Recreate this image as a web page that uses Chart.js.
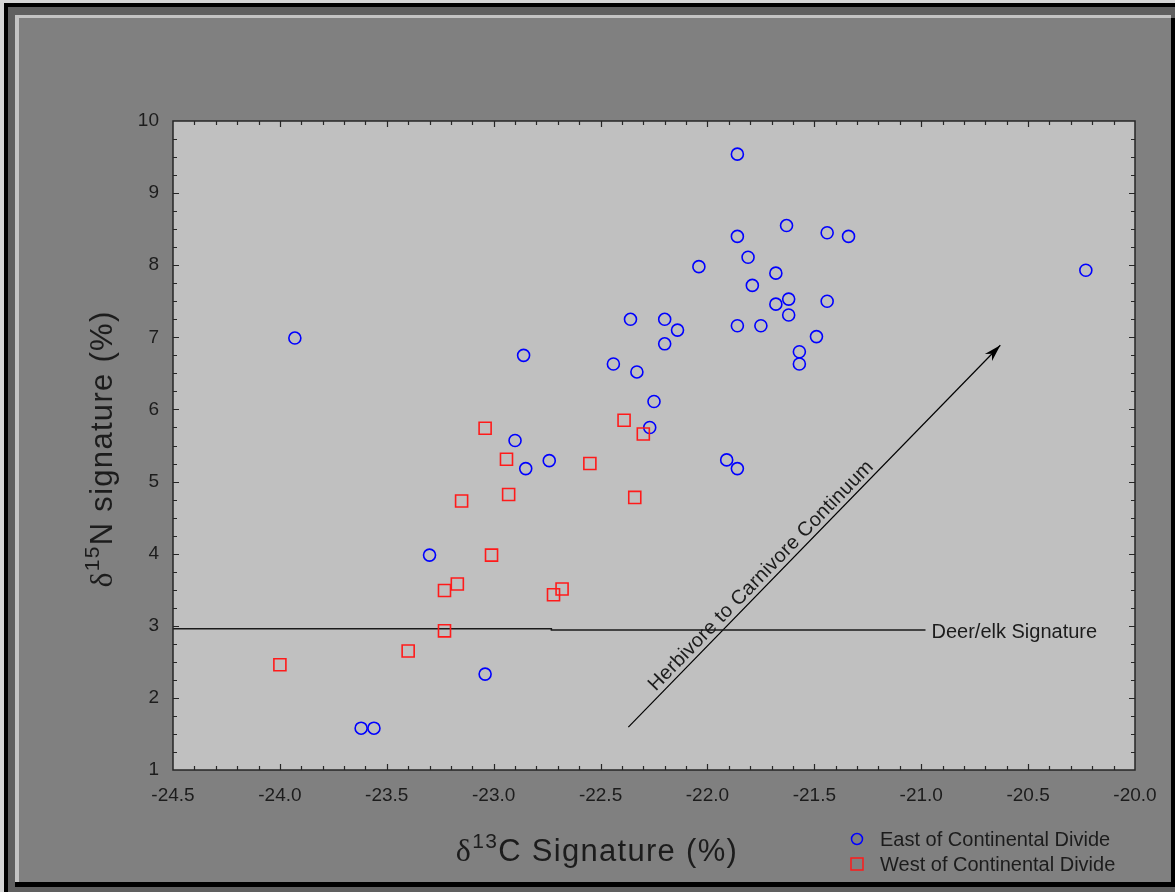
<!DOCTYPE html>
<html>
<head>
<meta charset="utf-8">
<script src="https://cdn.jsdelivr.net/npm/chart.js@4.4.0/dist/chart.umd.min.js"></script>
<style>
  html, body { margin: 0; padding: 0; }
  body { width: 1175px; height: 892px; background: #d6d6d6; position: relative; overflow: hidden; }
  .box { position: absolute; }
  #outer { left: 4px; top: 3px; width: 1171px; height: 889px; background: #000; }
  #dark { left: 8px; top: 7px; width: 1167px; height: 885px; background: #606060; }
  #light { left: 15px; top: 15px; width: 1156px; height: 867px; background: #c4c4c4; }
  #panel { left: 19px; top: 18px; width: 1152px; height: 864px; background: #808080; }
  #rshadow { left: 1171px; top: 18px; width: 4px; height: 869px; background: #000; }
  #bshadow { left: 15px; top: 882px; width: 1160px; height: 5px; background: #000; }
  #plot { position: absolute; left: 19px; top: 18px; }
</style>
</head>
<body>
<div class="box" id="outer"></div>
<div class="box" id="dark"></div>
<div class="box" id="light"></div>
<div class="box" id="panel"></div>
<div class="box" id="rshadow"></div>
<div class="box" id="bshadow"></div>
<canvas id="plot" width="1152" height="864"></canvas>
<script>
// d13C (x) and d15N (y) values
const eastX = [-23.93, -21.86, -21.63, -21.86, -21.44, -21.34, -21.81, -22.04, -21.68, -21.79,
               -21.68, -21.62, -21.44, -21.62, -21.86, -21.75, -22.36, -22.20, -22.14, -22.20,
               -21.49, -21.57, -21.57, -22.86, -22.44, -22.33, -22.25, -20.23, -22.90, -22.85,
               -22.74, -22.27, -21.91, -21.86, -23.30, -23.04, -23.62, -23.56];
const eastY = [6.99, 9.54, 8.55, 8.40, 8.45, 8.40, 8.11, 7.98, 7.89, 7.72,
               7.46, 7.53, 7.50, 7.31, 7.16, 7.16, 7.25, 7.25, 7.10, 6.91,
               7.01, 6.80, 6.63, 6.75, 6.63, 6.52, 6.11, 7.93, 5.57, 5.18,
               5.29, 5.75, 5.30, 5.18, 3.98, 2.33, 1.58, 1.58];

const westX = [-24.00, -23.40, -23.23, -23.23, -23.17, -23.15, -23.01, -23.04, -22.94, -22.93,
               -22.72, -22.68, -22.55, -22.39, -22.30, -22.34];
const westY = [2.46, 2.65, 2.93, 3.49, 3.58, 4.73, 3.98, 5.74, 5.31, 4.82,
               3.43, 3.51, 5.25, 5.85, 5.66, 4.78];

// reference lines
const deerX = [-24.5, -22.73, -22.73, -20.98];
const deerY = [2.96, 2.96, 2.94, 2.94];
const arrowX = [-22.37, -20.63];
const arrowY = [1.595, 6.89];

const xMin = -24.5, xMax = -20.0, xStep = 0.5, xMinor = 0.1;
const yMin = 1, yMax = 10, yStep = 1, yMinor = 0.25;

const seriesNames = ["East of Continental Divide", "West of Continental Divide"];
const deerLabel = "Deer/elk Signature";
const arrowLabel = "Herbivore to Carnivore Continuum";

const pts = (xs, ys) => xs.map((x, i) => ({ x: x, y: ys[i] }));

const sans = "'Liberation Sans', Arial, sans-serif";
const serif = "'Liberation Serif', 'Times New Roman', serif";
const ink = "#1c1c1c";

const decor = {
  id: "decor",
  beforeDraw(chart) {
    const { ctx, chartArea: a } = chart;
    ctx.save();
    ctx.fillStyle = "#c0c0c0";
    ctx.fillRect(a.left, a.top, a.right - a.left, a.bottom - a.top);
    ctx.restore();
  },
  afterDraw(chart) {
    const { ctx, chartArea: a } = chart;
    const xs = chart.scales.x, ys = chart.scales.y;
    ctx.save();

    // frame
    ctx.strokeStyle = "#262626";
    ctx.lineWidth = 1.5;
    ctx.strokeRect(a.left, a.top, a.right - a.left, a.bottom - a.top);

    // inward ticks on all four sides
    ctx.lineWidth = 1.2;
    ctx.beginPath();
    const nx = Math.round((xMax - xMin) / xMinor);
    for (let i = 1; i < nx; i++) {
      const px = Math.round(xs.getPixelForValue(xMin + i * xMinor)) + 0.5;
      const len = i % 5 === 0 ? 6 : 4;
      ctx.moveTo(px, a.bottom); ctx.lineTo(px, a.bottom - len);
      ctx.moveTo(px, a.top); ctx.lineTo(px, a.top + len);
    }
    const ny = Math.round((yMax - yMin) / yMinor);
    for (let i = 1; i < ny; i++) {
      const py = Math.round(ys.getPixelForValue(yMin + i * yMinor)) + 0.5;
      const len = i % 4 === 0 ? 6 : 4;
      ctx.moveTo(a.left, py); ctx.lineTo(a.left + len, py);
      ctx.moveTo(a.right, py); ctx.lineTo(a.right - len, py);
    }
    ctx.stroke();

    // arrow head
    const x0 = xs.getPixelForValue(arrowX[0]), y0 = ys.getPixelForValue(arrowY[0]);
    const x1 = xs.getPixelForValue(arrowX[1]), y1 = ys.getPixelForValue(arrowY[1]);
    const ang = Math.atan2(y1 - y0, x1 - x0);
    ctx.fillStyle = "#000";
    ctx.beginPath();
    ctx.moveTo(x1, y1);
    ctx.lineTo(x1 - 17 * Math.cos(ang) + 5 * Math.sin(ang), y1 - 17 * Math.sin(ang) - 5 * Math.cos(ang));
    ctx.lineTo(x1 - 12 * Math.cos(ang), y1 - 12 * Math.sin(ang));
    ctx.lineTo(x1 - 17 * Math.cos(ang) - 5 * Math.sin(ang), y1 - 17 * Math.sin(ang) + 5 * Math.cos(ang));
    ctx.closePath();
    ctx.fill();

    // arrow label along the line
    const t = 0.377;
    const len = Math.hypot(x1 - x0, y1 - y0);
    const ux = (x1 - x0) / len, uy = (y1 - y0) / len;
    const cx = x0 + t * (x1 - x0) + uy * 5, cy = y0 + t * (y1 - y0) - ux * 5;
    ctx.save();
    ctx.translate(cx, cy);
    ctx.rotate(ang);
    ctx.fillStyle = ink;
    ctx.font = "20px " + sans;
    ctx.letterSpacing = "0.3px";
    ctx.textAlign = "center";
    ctx.textBaseline = "alphabetic";
    ctx.fillText(arrowLabel, 0, 0);
    ctx.restore();

    // deer/elk label
    ctx.fillStyle = ink;
    ctx.font = "20px " + sans;
    ctx.textAlign = "left";
    ctx.textBaseline = "middle";
    ctx.fillText(deerLabel, xs.getPixelForValue(deerX[3]) + 6, ys.getPixelForValue(deerY[3]) + 2);

    // axis titles with delta and superscript
    ctx.letterSpacing = "1.3px";
    function title(parts) {
      let w = 0;
      parts.forEach(p => { ctx.font = p.f; p.w = ctx.measureText(p.s).width; w += p.w; });
      return w;
    }
    const xt = [
      { s: "\u03b4", f: "32px " + serif, dy: 0 },
      { s: "13", f: "21px " + sans, dy: -13 },
      { s: "C Signature (%)", f: "31px " + sans, dy: 0 }
    ];
    let wx = title(xt);
    let px = 578 - wx / 2;
    ctx.textAlign = "left";
    ctx.textBaseline = "alphabetic";
    xt.forEach(p => { ctx.font = p.f; ctx.fillText(p.s, px, 843 + p.dy); px += p.w; });

    const yt = [
      { s: "\u03b4", f: "32px " + serif, dy: 0 },
      { s: "15", f: "21px " + sans, dy: -13 },
      { s: "N signature (%)", f: "31px " + sans, dy: 0 }
    ];
    let wy = title(yt);
    ctx.save();
    ctx.translate(93, 431);
    ctx.rotate(-Math.PI / 2);
    let py = -wy / 2;
    yt.forEach(p => { ctx.font = p.f; ctx.fillText(p.s, py, p.dy); py += p.w; });
    ctx.restore();
    ctx.letterSpacing = "0px";

    // legend
    ctx.lineWidth = 1.5;
    ctx.strokeStyle = "#0000ff";
    ctx.beginPath();
    ctx.arc(838, 821, 5.5, 0, Math.PI * 2);
    ctx.stroke();
    ctx.strokeStyle = "#ff1a1a";
    ctx.strokeRect(832, 840, 12, 12);
    ctx.fillStyle = ink;
    ctx.font = "20px " + sans;
    ctx.textBaseline = "middle";
    ctx.fillText(seriesNames[0], 861, 822);
    ctx.fillText(seriesNames[1], 861, 847);

    ctx.restore();
  }
};

new Chart(document.getElementById("plot"), {
  type: "scatter",
  data: {
    datasets: [
      {
        label: seriesNames[1],
        data: pts(westX, westY),
        pointStyle: "rect",
        pointRadius: 8.5,
        borderWidth: 1.6,
        borderColor: "#ff1a1a",
        backgroundColor: "rgba(0,0,0,0)",
        order: 0
      },
      {
        label: seriesNames[0],
        data: pts(eastX, eastY),
        pointStyle: "circle",
        pointRadius: 6,
        borderWidth: 1.6,
        borderColor: "#0000ff",
        backgroundColor: "rgba(0,0,0,0)",
        order: 1
      },
      {
        label: deerLabel,
        data: pts(deerX, deerY),
        showLine: true,
        pointRadius: 0,
        borderColor: "#1a1a1a",
        borderWidth: 1.5,
        order: 2
      },
      {
        label: arrowLabel,
        data: pts(arrowX, arrowY),
        showLine: true,
        pointRadius: 0,
        borderColor: "#000",
        borderWidth: 1.2,
        order: 2
      }
    ]
  },
  options: {
    responsive: false,
    animation: false,
    devicePixelRatio: 1,
    events: [],
    layout: { padding: { left: 0, top: 103, right: 36, bottom: 62 } },
    plugins: { legend: { display: false }, tooltip: { enabled: false } },
    scales: {
      x: {
        type: "linear",
        min: xMin, max: xMax,
        afterFit: s => { s.height = 50; },
        grid: { drawOnChartArea: false, drawTicks: false },
        border: { display: false },
        ticks: {
          stepSize: xStep,
          padding: 14,
          color: ink,
          font: { family: sans, size: 19 },
          callback: v => v.toFixed(1)
        }
      },
      y: {
        type: "linear",
        min: yMin, max: yMax,
        afterFit: s => { s.width = 154; },
        grid: { drawOnChartArea: false, drawTicks: false },
        border: { display: false },
        ticks: {
          stepSize: yStep,
          padding: 14,
          color: ink,
          font: { family: sans, size: 19 }
        }
      }
    }
  },
  plugins: [decor]
});
</script>
</body>
</html>
